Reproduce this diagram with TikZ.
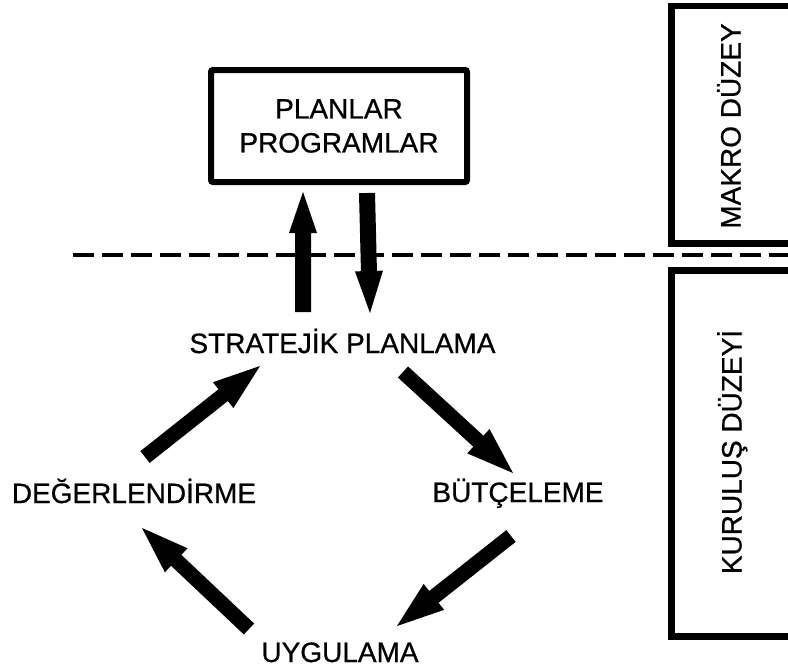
\documentclass[tikz,border=0pt]{standalone}
\usepackage{fontspec}
\setmainfont{Liberation Sans}[BoldFont=Liberation Sans, BoldFeatures={FakeBold=0.7}]
\usetikzlibrary{calc}

% Fat block arrow: shaft half-width, head half-width, head length, from, to
\newcommand\fatarrow[5]{%
  \path ($(#5)!#3!(#4)$) coordinate (fa-base);
  \fill ($(#4)!#1!90:(#5)$) -- ($(fa-base)!#1!90:(#5)$) -- ($(fa-base)!#2!90:(#5)$)
    -- (#5) -- ($(fa-base)!#2!-90:(#5)$) -- ($(fa-base)!#1!-90:(#5)$)
    -- ($(#4)!#1!-90:(#5)$) -- cycle;
}

\begin{document}
\begin{tikzpicture}[x=1pt, y=-1pt,
  lbl/.style={font=\fontsize{28}{34}\selectfont\bfseries, inner sep=0pt},
  framebox/.style={draw, line width=6.5pt},
  levelline/.style={line width=4pt, dash pattern=on 21pt off 8pt}]
  \useasboundingbox (0,0) rectangle (788,670);
  \clip (0,0) rectangle (788,670);

  % upper level: plans and programmes
  \node[framebox, line width=6pt, rounded corners=2pt, minimum width=256pt,
        minimum height=112pt, align=center, font=\fontsize{28}{34}\selectfont\bfseries]
        (plan) at (339,126) {PLANLAR\\PROGRAMLAR};

  % level frames on the right
  \draw[framebox] (671.5,6) rectangle (800,243.5);
  \draw[framebox] (671.5,270.5) rectangle (800,636.5);
  \node[lbl, rotate=90, anchor=base] (makro) at (740.5,126) {MAKRO DÜZEY};
  \node[lbl, rotate=90, anchor=base] (kurulus) at (741.5,452) {KURULUŞ DÜZEYİ};

  % boundary between the two levels
  \draw[levelline] (73,255) -- (788,255);

  % cycle stages
  \node[lbl, anchor=base] (strat) at (342.5,353) {STRATEJİK PLANLAMA};
  \node[lbl, anchor=base] (deg) at (134,503) {DEĞERLENDİRME};
  \node[lbl, anchor=base] (but) at (518,502) {BÜTÇELEME};
  \node[lbl, anchor=base] (uyg) at (340,662) {UYGULAMA};

  % arrow end points
  \coordinate (upS) at (303,312);   \coordinate (upE) at (303,192);
  \coordinate (dnS) at (367,193);   \coordinate (dnE) at (370,313);
  \coordinate (c1S) at (145,457);   \coordinate (c1E) at (260,366);
  \coordinate (c2S) at (403,372);   \coordinate (c2E) at (513,473);
  \coordinate (c3S) at (511,536);   \coordinate (c3E) at (397,626);
  \coordinate (c4S) at (249,629);   \coordinate (c4E) at (142,528);

  % exchange between the levels
  \fatarrow{8pt}{14pt}{41pt}{upS}{upE}
  \fatarrow{8pt}{14pt}{42pt}{dnS}{dnE}

  % planning cycle
  \fatarrow{7.5pt}{16.5pt}{47pt}{c1S}{c1E}
  \fatarrow{7.5pt}{16.5pt}{47pt}{c2S}{c2E}
  \fatarrow{7.5pt}{16.5pt}{47pt}{c3S}{c3E}
  \fatarrow{7.5pt}{16.5pt}{47pt}{c4S}{c4E}
\end{tikzpicture}
\end{document}
